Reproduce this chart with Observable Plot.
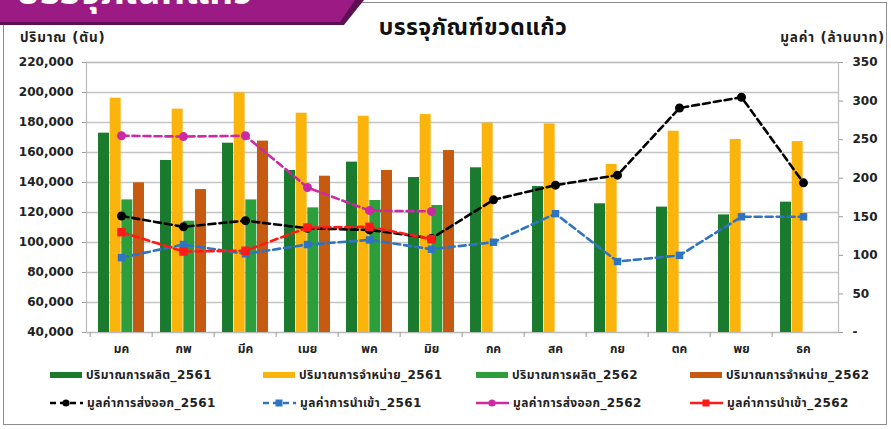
<!DOCTYPE html>
<html><head><meta charset="utf-8">
<script src="https://cdn.jsdelivr.net/npm/d3@7"></script>
<script src="https://cdn.jsdelivr.net/npm/@observablehq/plot@0.6"></script>
<style>
body{margin:0;background:#fff;font-family:"DejaVu Sans",Tahoma,"Noto Sans Thai",sans-serif;}
#wrap{position:relative;width:891px;height:429px;overflow:hidden;}
#chart svg{position:absolute;left:0;top:0;}
.abs{position:absolute;white-space:nowrap;}
#frame{position:absolute;left:3px;top:2px;width:884px;height:423px;border:1.5px solid #8c8c8c;box-sizing:border-box;}
#banner{position:absolute;left:0;top:0;width:364px;height:25px;background:#5c0f52;clip-path:polygon(0 0,100% 0,94.5% 100%,0 100%);}
#banner2{position:absolute;left:0;top:0;width:355px;height:22px;background:#9c1a84;clip-path:polygon(0 0,100% 0,95.8% 100%,0 100%);overflow:hidden;}
#banner2 span{position:absolute;left:16px;top:-31px;font-size:38px;line-height:1.2;color:#fff;font-weight:bold;}
#title{left:0;width:946px;text-align:center;top:11px;font-size:23px;font-weight:bold;color:#111;letter-spacing:0.4px;}
.axt{font-size:13.5px;font-weight:bold;color:#222;top:28px;letter-spacing:0.8px;}
.leg{font-size:12px;font-weight:bold;color:#222;display:flex;align-items:center;letter-spacing:0.4px;}
.sw{display:inline-block;width:32px;height:6px;margin-right:4px;}
</style></head>
<body>
<div id="wrap">
  <div id="frame"></div>
  <div id="chart"></div>
  <div id="banner"></div>
  <div id="banner2"><span>บรรจุภัณฑ์แก้ว</span></div>
  <div id="title" class="abs">บรรจุภัณฑ์ขวดแก้ว</div>
  <div class="abs axt" style="left:20px;">ปริมาณ (ตัน)</div>
  <div class="abs axt" style="right:6px;">มูลค่า (ล้านบาท)</div>
  <div id="legend"></div>
</div>
<script>
const months = ["มค","กพ","มีค","เมย","พค","มิย","กค","สค","กย","ตค","พย","ธค"];
const prod2561  = [172900,154700,166200,148000,153600,143300,149800,137300,125800,123600,118400,126900];
const sales2561 = [196200,188900,199800,186200,184200,185300,179600,179100,152000,174200,168700,167300];
const prod2562  = [128400,114200,128400,123100,128000,124700];
const sales2562 = [139800,135300,167600,144200,148000,161300];
const export2561 = [151,137,145,135,133,122,172,191,204,291,305,194];
const import2561 = [97,114,102,114,120,108,117,154,92,100,150,150];
const export2562 = [255,254,255,188,158,157];
const import2562 = [130,105,106,136,137,121];
const leftTicks = [40000,60000,80000,100000,120000,140000,160000,180000,200000,220000];
const rightTicks = [0,50,100,150,200,250,300,350];

const barSeries = [
  {name:"ปริมาณการผลิต_2561", values:prod2561, color:"#1a7a2e"},
  {name:"ปริมาณการจำหน่าย_2561", values:sales2561, color:"#fbb40c"},
  {name:"ปริมาณการผลิต_2562", values:prod2562, color:"#2c9e3c"},
  {name:"ปริมาณการจำหน่าย_2562", values:sales2562, color:"#c65a10"}
];
const lineSeries = [
  {name:"มูลค่าการส่งออก_2561", values:export2561, color:"#000000", symbol:"circle", r:4.5},
  {name:"มูลค่าการนำเข้า_2561", values:import2561, color:"#2e74c0", symbol:"square", r:4.2},
  {name:"มูลค่าการส่งออก_2562", values:export2562, color:"#cc2aa5", symbol:"circle", r:4.5},
  {name:"มูลค่าการนำเข้า_2562", values:import2562, color:"#ff1a1a", symbol:"square", r:4.8}
];

const yMin = 40000, yMax = 220000, rMax = 350;
const toLeft = v => yMin + v * (yMax - yMin) / rMax;
const fromLeft = y => (y - yMin) * rMax / (yMax - yMin);

const W = 891, H = 429, mL = 86, mR = 53, mT = 62, mB = 97;
const bw = (W - mL - mR) / months.length;
const barW = bw * 0.186;
const gap = (bw - 4 * barW) / 2;

const marks = [
  Plot.ruleY(leftTicks, {stroke:"#c4c4c4", strokeWidth:1.6}),
  Plot.frame({stroke:"#bcbcbc", strokeWidth:1.2})
];
barSeries.forEach((s, i) => {
  const rows = s.values.map((v, j) => ({m: months[j], v}));
  marks.push(Plot.barY(rows, {
    x: "m", y1: () => yMin, y2: "v", fill: s.color,
    insetLeft: gap + i * barW, insetRight: bw - gap - (i + 1) * barW
  }));
});
lineSeries.forEach(s => {
  const rows = s.values.map((v, j) => ({m: months[j], v: toLeft(v)}));
  marks.push(Plot.line(rows, {x:"m", y:"v", stroke:s.color, strokeWidth:2.6, strokeDasharray:"7,4"}));
  marks.push(Plot.dot(rows, {x:"m", y:"v", fill:s.color, stroke:"none", symbol:s.symbol, r:s.r}));
});
const tickFont = {fontSize:12, fontWeight:"bold"};
marks.push(
  Plot.ruleX(months, {x: d => d, dx: -bw/2, y1: yMin, y2: yMin, insetBottom: -5, stroke:"#9a9a9a"}),
  Plot.axisX({tickSize:0, tickPadding:12, ...tickFont, label:null}),
  Plot.axisY(leftTicks, {anchor:"left", tickFormat:d3.format(","), tickSize:4, tickPadding:9, ...tickFont, label:null, stroke:"#9a9a9a"}),
  Plot.axisY(rightTicks.map(toLeft), {anchor:"right", tickFormat: d => { const v = Math.round(fromLeft(d)); return v === 0 ? "-" : String(v); }, tickSize:4, tickPadding:10, ...tickFont, label:null, stroke:"#9a9a9a"})
);

const chart = Plot.plot({
  width: W, height: H,
  marginLeft: mL, marginRight: mR, marginTop: mT, marginBottom: mB,
  style: {background:"transparent", fontFamily:'"DejaVu Sans",Tahoma,"Noto Sans Thai",sans-serif', color:"#222"},
  x: {type:"band", domain: months, padding: 0},
  y: {domain: [yMin, yMax]},
  marks
});
document.getElementById("chart").appendChild(chart);

// legend
const legend = document.getElementById("legend");
const legX = [50, 263, 476, 690];
barSeries.forEach((s, i) => {
  const d = document.createElement("div");
  d.className = "abs leg";
  d.style.left = legX[i] + "px"; d.style.top = "366px";
  d.innerHTML = `<span class="sw" style="background:${s.color}"></span>${s.name}`;
  legend.appendChild(d);
});
lineSeries.forEach((s, i) => {
  const d = document.createElement("div");
  d.className = "abs leg";
  d.style.left = legX[i] + "px"; d.style.top = "394px";
  const mk = s.symbol === "circle"
    ? `<circle cx="16" cy="7" r="3.6" fill="${s.color}"/>`
    : `<rect x="12.5" y="3.5" width="7" height="7" fill="${s.color}"/>`;
  const dash = i < 2 ? 'stroke-dasharray="6,4"' : '';
  d.innerHTML = `<svg width="33" height="14" style="margin-right:4px;display:block"><line x1="0" y1="7" x2="33" y2="7" stroke="${s.color}" stroke-width="2.5" ${dash}/>${mk}</svg>${s.name}`;
  legend.appendChild(d);
});
</script>
</body></html>
